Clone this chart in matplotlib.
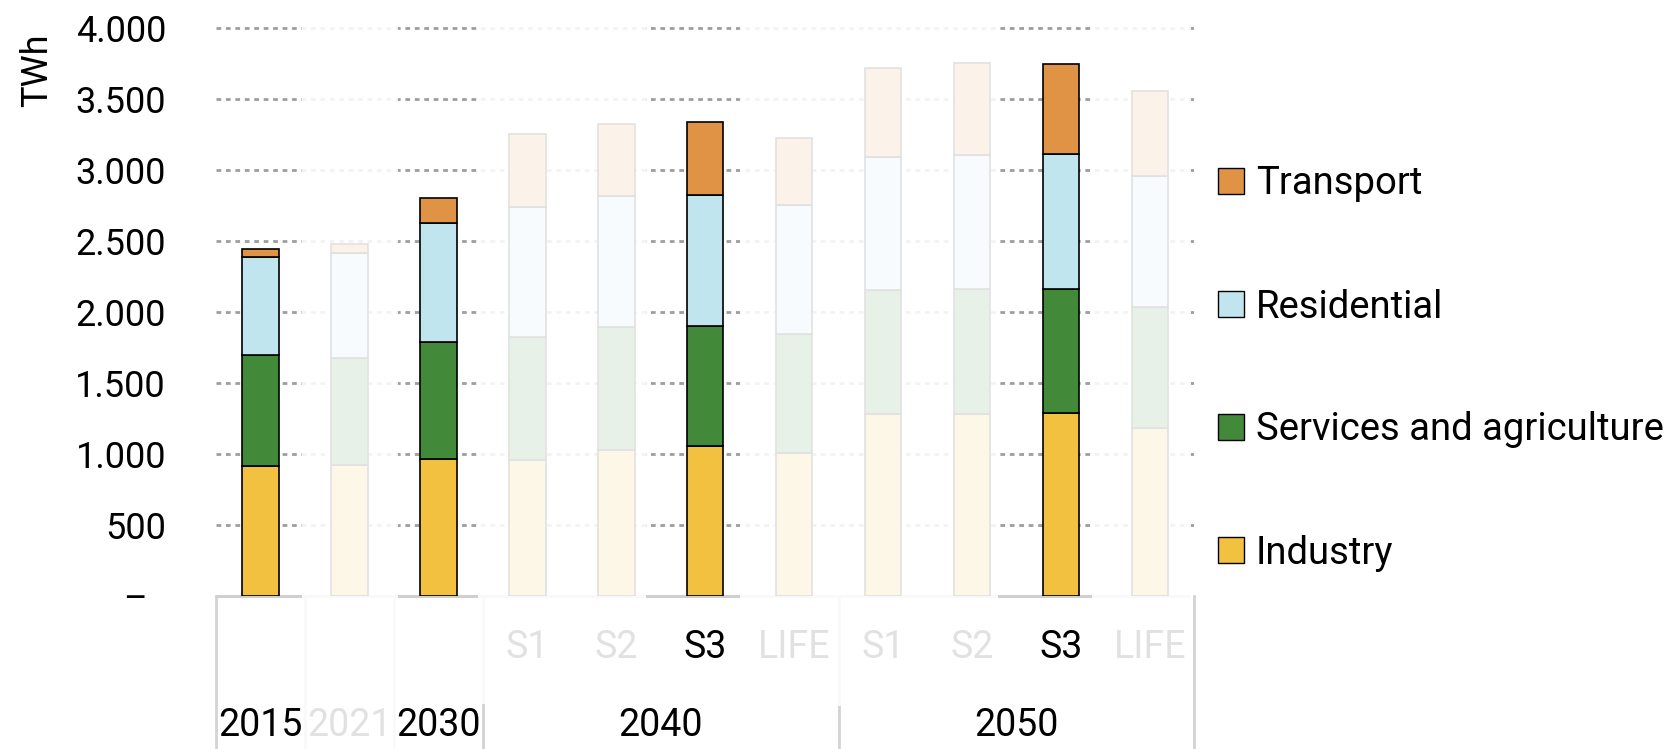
import matplotlib
matplotlib.use("Agg")
import matplotlib.pyplot as plt
import matplotlib.transforms as mtransforms
from matplotlib.patches import Rectangle
from matplotlib.lines import Line2D
import numpy as np

plt.rcParams['font.family'] = ['Roboto', 'DejaVu Sans']

# ---- data (TWh) ----
scenarios = ['', '', '', 'S1', 'S2', 'S3', 'LIFE', 'S1', 'S2', 'S3', 'LIFE']
years = ['2015', '2021', '2030', '2040', '2050']
year_span = [1, 1, 1, 4, 4]          # number of bars under each year
sectors = ['Industry', 'Services and agriculture', 'Residential', 'Transport']
industry    = [918, 925, 967, 958, 1032, 1058, 1011, 1286, 1286, 1291, 1187]
services    = [781, 751, 822, 866, 864, 843, 834, 873, 876, 871, 850]
residential = [688, 739, 842, 915, 925, 925, 908, 933, 944, 953, 923]
transport   = [59, 66, 176, 514, 507, 512, 477, 631, 647, 636, 596]
yticks = [0, 500, 1000, 1500, 2000, 2500, 3000, 3500, 4000]
ytick_labels = ['–', '500', '1.000', '1.500', '2.000', '2.500', '3.000', '3.500', '4.000']

colors = ['#F2C13F', '#428A39', '#C0E5EE', '#E09345']

W, H = 1672, 749
fig = plt.figure(figsize=(W / 100, H / 100), dpi=100)


def fx(px):
    return px / W


def fy(py):
    return 1 - py / H


ax = fig.add_axes([fx(216), fy(596.3), (1190 - 216) / W, (596.3 - 28.3) / H])
ax.set_xlim(-0.5, 10.45)
ax.set_ylim(0, 4000)
for s in ax.spines.values():
    s.set_visible(False)

x = np.arange(len(scenarios))
series = [industry, services, residential, transport]
bottom = np.zeros(len(x))
for vals, col in zip(series, colors):
    ax.bar(x, vals, width=0.41, bottom=bottom, color=col, edgecolor='black',
           linewidth=1.2, zorder=3)
    bottom += np.array(vals)

# dotted gridlines
ax.hlines(yticks[1:], -0.5, 10.5, colors='#9E9E9E', linewidth=2.0,
          linestyles=(0, (1.7, 1.7)), zorder=1, clip_on=False)
# category axis baseline
ax.plot([-0.5, 10.45], [0, 0], color='#CFCFCF', lw=2.2, zorder=2, clip_on=False,
        solid_capstyle='butt')

ax.set_xticks([])
ax.set_yticks(yticks)
ax.set_yticklabels(ytick_labels, fontsize=26)
ax.tick_params(axis='y', length=0, pad=36)
zero_lbl = ax.get_yticklabels()[0]
zero_lbl.set_transform(zero_lbl.get_transform() +
                       mtransforms.ScaledTranslation(-0.19, 0, fig.dpi_scale_trans))

# multi-level category labels below the axis
bt = mtransforms.blended_transform_factory(ax.transData, fig.transFigure)
for xi, lab in zip(x, scenarios):
    if lab:
        ax.text(xi, fy(647), lab, transform=bt, ha='center', va='center',
                fontsize=27, clip_on=False, zorder=4)
start = 0
edges = [-0.5]
for yr, n in zip(years, year_span):
    centre = start + (n - 1) / 2
    ax.text(centre, fy(725), yr, transform=bt, ha='center', va='center',
            fontsize=27, clip_on=False, zorder=4)
    start += n
    edges.append(start - 0.5)

# cell borders of the category table
sep_col = '#D3D3D3'
for i, e in enumerate(edges):
    if i == 0:
        xe = -0.5
    elif i == len(edges) - 1:
        xe = 10.49
    else:
        xe = e
    ax.add_line(Line2D([xe, xe], [fy(596.3), 0], transform=bt, color=sep_col,
                       lw=2, clip_on=False, zorder=2))

# translucent white veils over the secondary scenarios
veils = [(0.467, 1.546, 749), (2.445, 4.334, 704), (5.391, 8.292, 706),
         (9.349, 10.46, 706)]
for x0, x1, ybot in veils:
    ax.add_patch(Rectangle((x0, fy(ybot)), x1 - x0, fy(12) - fy(ybot),
                           transform=bt, facecolor='white', edgecolor='none',
                           alpha=0.885, zorder=10, clip_on=False))

# y-axis unit
fig.text(fx(37), fy(70), 'TWh', rotation=90, ha='center', va='center', fontsize=26)

# legend
leg_y = [550, 427, 304, 181]
for name, col, yc in zip(sectors, colors, leg_y):
    fig.add_artist(Rectangle((fx(1218), fy(yc + 13)), 26 / W, 26 / H,
                             transform=fig.transFigure, facecolor=col,
                             edgecolor='black', lw=1.0))
    fig.text(fx(1256), fy(yc + 13.5), name, ha='left', va='baseline', fontsize=27.5)

fig.savefig('out.png', dpi=100)
